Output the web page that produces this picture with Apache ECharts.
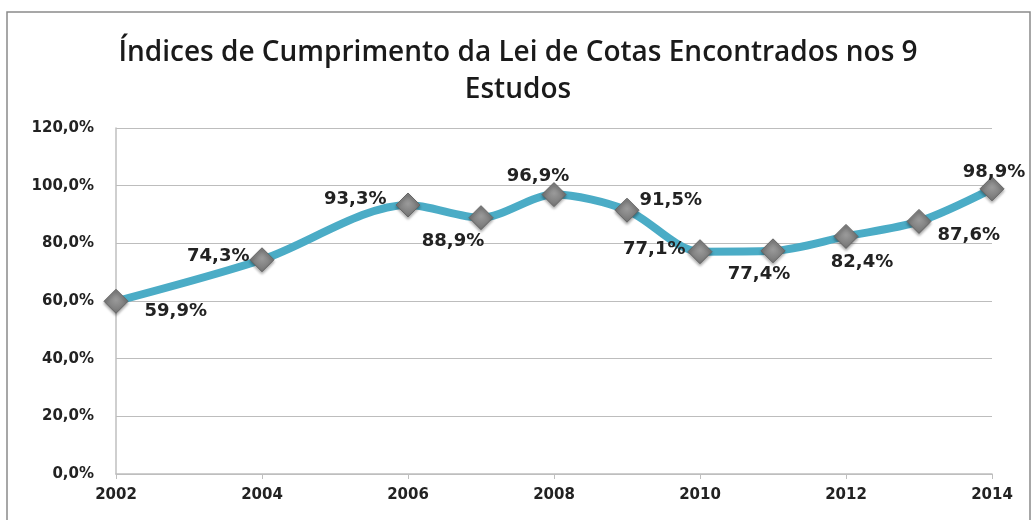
<!DOCTYPE html>
<html><head><meta charset="utf-8">
<script src="https://cdn.jsdelivr.net/npm/echarts@6/dist/echarts.min.js"></script>
<style>html,body{margin:0;padding:0;background:#fff}#c{width:1036px;height:520px}</style>
</head><body><div id="c"></div>
<script>
const years = [2002, 2004, 2006, 2007, 2008, 2009, 2010, 2011, 2012, 2013, 2014];
const values = [59.9, 74.3, 93.3, 88.9, 96.9, 91.5, 77.1, 77.4, 82.4, 87.6, 98.9];
const labelPlacement = ['right', 'left', 'left', 'bottom', 'top', 'right', 'left', 'bottom', 'bottom', 'right', 'top'];
const labelShift = [[10, 10], [6, -3], [-3, -6], [-28, -4], [-16, 9], [-6, -10], [4, -2], [-14, -4], [16, -2], [0, 14], [2, 11]];
const titleText = 'Índices de Cumprimento da Lei de Cotas Encontrados nos 9\nEstudos';

const chart = echarts.init(document.getElementById('c'));
const fmt = v => v.toFixed(1).replace('.', ',') + '%';
chart.setOption({
  animation: false,
  graphic: [{type: 'rect', shape: {x: 7, y: 12, width: 1023, height: 520}, style: {fill: 'none', stroke: '#8a8a8a', lineWidth: 1.5}, z: -1}],
  title: {
    text: titleText, left: 'center', top: 30,
    textStyle: {fontFamily: 'Open Sans', fontWeight: 600, fontSize: 28, color: '#1a1a1a', lineHeight: 37}
  },
  grid: {left: 116, right: 44, top: 128, bottom: 46},
  xAxis: {
    type: 'value', min: 2002, max: 2014, interval: 2,
    axisLine: {show: true, lineStyle: {color: '#bfbfbf', width: 1.5}},
    axisTick: {show: true, length: 5, lineStyle: {color: '#bfbfbf'}},
    splitLine: {show: false},
    axisLabel: {color: '#222', fontFamily: 'DejaVu Sans', fontWeight: 'bold', fontSize: 15, margin: 14, formatter: v => String(v)}
  },
  yAxis: {
    type: 'value', min: 0, max: 120, interval: 20,
    axisLine: {show: true, lineStyle: {color: '#bfbfbf', width: 1.5}},
    axisTick: {show: false},
    splitLine: {lineStyle: {color: '#bdbdbd', width: 1}},
    axisLabel: {color: '#222', fontFamily: 'DejaVu Sans', fontWeight: 'bold', fontSize: 15, margin: 22, formatter: v => v.toFixed(1).replace('.', ',') + '%'}
  },
  series: [{
    type: 'line', smooth: 0.3,
    data: years.map((y, i) => ({
      value: [y, values[i]],
      label: {position: labelPlacement[i], offset: labelShift[i]}
    })),
    lineStyle: {color: '#4bacc6', width: 8},
    symbol: 'diamond', symbolSize: 24,
    itemStyle: {
      color: {type: 'radial', x: 0.5, y: 0.45, r: 0.6, colorStops: [{offset: 0, color: '#9a9a9a'}, {offset: 1, color: '#6e6e6e'}]},
      borderColor: '#666', borderWidth: 1, shadowBlur: 3, shadowColor: 'rgba(0,0,0,0.35)', shadowOffsetY: 2
    },
    label: {show: true, color: '#222', fontFamily: 'DejaVu Sans', fontWeight: 'bold', fontSize: 18, distance: 6,
      formatter: p => fmt(p.value[1])}
  }]
});
</script></body></html>
